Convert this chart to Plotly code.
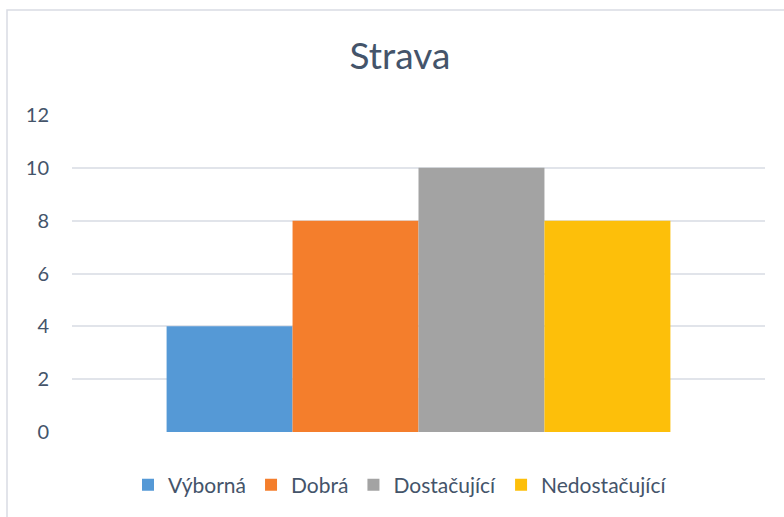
import plotly.graph_objects as go

category = [""]
series_names = ["Výborná", "Dobrá", "Dostačující", "Nedostačující"]
series_values = [4, 8, 10, 8]
series_colors = ["#5599D6", "#F47E2C", "#A3A3A3", "#FDBF0A"]
y_ticks = [0, 2, 4, 6, 8, 10, 12]

fig = go.Figure()
for name, val, col in zip(series_names, series_values, series_colors):
    fig.add_trace(go.Bar(x=category, y=[val], name=name,
                         marker=dict(color=col, line=dict(width=0))))

W, H = 784, 517
ml, mr, mt, mb = 72, 19, 115, 85
pw, ph = W - ml - mr, H - mt - mb

# chart-area border (outer frame)
fig.add_shape(type="rect", xref="paper", yref="paper",
              x0=(7 - ml) / pw, x1=(W + 20 - ml) / pw,
              y0=-(H + 20 - (H - mb)) / ph, y1=1 + (mt - 10) / ph,
              line=dict(color="#D9DCE3", width=1.5), fillcolor="rgba(0,0,0,0)",
              layer="below")

font_color = "#44546A"
fig.update_layout(
    width=W, height=H,
    margin=dict(l=ml, r=mr, t=mt, b=mb, pad=0),
    paper_bgcolor="white", plot_bgcolor="white",
    font=dict(family="Lato, Open Sans, sans-serif", color=font_color),
    title=dict(text="Strava", x=400 / W, xanchor="center",
               y=1 - 56 / H, yanchor="middle",
               font=dict(size=37, color=font_color)),
    barmode="group", bargap=0.273, bargroupgap=0,
    showlegend=True,
    legend=dict(orientation="h", x=(400 - ml) / pw, xanchor="center",
                y=-(485 - (H - mb)) / ph, yanchor="middle",
                font=dict(size=21, color=font_color),
                traceorder="normal"),
    xaxis=dict(showticklabels=False, showgrid=False, zeroline=False,
               showline=False, ticks=""),
    yaxis=dict(range=[0, 12], tickvals=y_ticks, showgrid=True,
               gridcolor="#E1E4EA", gridwidth=1.5, zeroline=False,
               showline=False, ticks="", ticklabelstandoff=22,
               tickfont=dict(size=20, color=font_color)),
)

fig.write_html("out.html", config={"displayModeBar": False},
               post_script="document.body.style.margin='0';document.body.style.padding='0';")
